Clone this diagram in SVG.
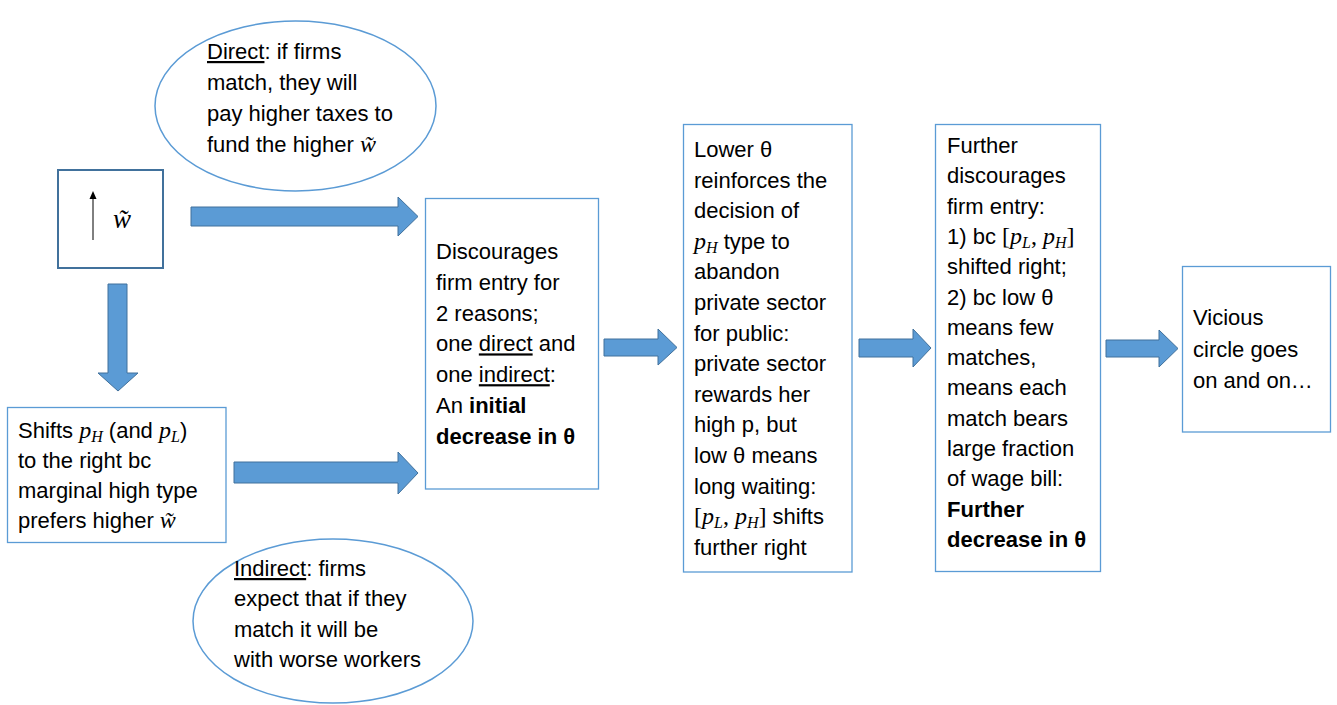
<svg xmlns="http://www.w3.org/2000/svg" width="1337" height="705" viewBox="0 0 1337 705">
<style>
.box{fill:#fff;stroke:#5B9BD5;stroke-width:1.3}
.ell{fill:#fff;stroke:#5B9BD5;stroke-width:1.5}
.arr{fill:#5B9BD5;stroke:#41719C;stroke-width:1}
.t{font-family:"Liberation Sans",Arial,sans-serif;font-size:22px;fill:#000}
.m{font-family:"Liberation Serif","Times New Roman",serif;font-style:italic;font-size:24px}
.r{font-family:"Liberation Serif","Times New Roman",serif;font-size:24px}
.s{font-size:16px}
.u{text-decoration:underline}
.b{font-weight:bold}
</style>
<rect width="1337" height="705" fill="#fff"/>
<g id="connectors">
<polygon class="arr" points="191,207 398,207 398,197 418,216.5 398,236 398,226 191,226"/>
<polygon class="arr" points="234,462 398,462 398,452 418,473 398,494 398,483 234,483"/>
<polygon class="arr" points="108,284 127,284 127,373 138,373 118,391 98,373 108,373"/>
<polygon class="arr" points="604,339 658,339 658,329 677,347.5 658,365 658,356 604,356"/>
<polygon class="arr" points="859,339 913,339 913,329 931,348 913,367 913,357 859,357"/>
<polygon class="arr" points="1106,340 1159,340 1159,330 1178,348.5 1159,367 1159,357 1106,357"/>
</g>
<g id="w">
<rect x="58" y="170" width="105" height="98" fill="#fff" stroke="#41719C" stroke-width="2"/>
<line x1="93" y1="240" x2="93" y2="198" stroke="#000" stroke-width="1"/>
<polygon points="93,191 89.5,199 96.5,199" fill="#000"/>
<text class="t m" x="113" y="228" style="font-size:27px">w̃</text>
</g>
<g id="direct">
<ellipse class="ell" cx="295.5" cy="106" rx="140.5" ry="85"/>
<text class="t" x="207" y="59"><tspan class="u">Direct</tspan>: if firms</text>
<text class="t" x="207" y="90">match, they will</text>
<text class="t" x="207" y="121">pay higher taxes to</text>
<text class="t" x="207" y="152">fund the higher <tspan class="m">w̃</tspan></text>
</g>
<g id="shifts">
<rect class="box" x="7.5" y="407.5" width="218.5" height="135"/>
<text class="t" x="18" y="438">Shifts <tspan class="m">p</tspan><tspan class="m s" dy="4">H</tspan><tspan dy="-4"> (and </tspan><tspan class="m">p</tspan><tspan class="m s" dy="4">L</tspan><tspan dy="-4">)</tspan></text>
<text class="t" x="18" y="468">to the right bc</text>
<text class="t" x="18" y="498">marginal high type</text>
<text class="t" x="18" y="528">prefers higher <tspan class="m">w̃</tspan></text>
</g>
<g id="indirect">
<ellipse class="ell" cx="333" cy="621" rx="140" ry="82"/>
<text class="t" x="234" y="576"><tspan class="u">Indirect</tspan>: firms</text>
<text class="t" x="234" y="606">expect that if they</text>
<text class="t" x="234" y="637">match it will be</text>
<text class="t" x="234" y="667">with worse workers</text>
</g>
<g id="discourages">
<rect class="box" x="425.5" y="198.5" width="173" height="290.5"/>
<text class="t" x="436" y="259">Discourages</text>
<text class="t" x="436" y="289.8">firm entry for</text>
<text class="t" x="436" y="320.6">2 reasons;</text>
<text class="t" x="436" y="351.4">one <tspan class="u">direct</tspan> and</text>
<text class="t" x="436" y="382.2">one <tspan class="u">indirect</tspan>:</text>
<text class="t" x="436" y="413">An <tspan class="b">initial</tspan></text>
<text class="t b" x="436" y="443.8">decrease in θ</text>
</g>
<g id="lower">
<rect class="box" x="683.5" y="124.5" width="168.5" height="447.5"/>
<text class="t" x="694" y="157">Lower θ</text>
<text class="t" x="694" y="187.6">reinforces the</text>
<text class="t" x="694" y="218.2">decision of</text>
<text class="t" x="694" y="248.8"><tspan class="m">p</tspan><tspan class="m s" dy="4">H</tspan><tspan dy="-4"> type to</tspan></text>
<text class="t" x="694" y="279.4">abandon</text>
<text class="t" x="694" y="310">private sector</text>
<text class="t" x="694" y="340.6">for public:</text>
<text class="t" x="694" y="371.2">private sector</text>
<text class="t" x="694" y="401.8">rewards her</text>
<text class="t" x="694" y="432.4">high p, but</text>
<text class="t" x="694" y="463">low θ means</text>
<text class="t" x="694" y="493.6">long waiting:</text>
<text class="t" x="694" y="524.2"><tspan class="r">[</tspan><tspan class="m">p</tspan><tspan class="m s" dy="4">L</tspan><tspan class="r" dy="-4">, </tspan><tspan class="m">p</tspan><tspan class="m s" dy="4">H</tspan><tspan class="r" dy="-4">]</tspan> shifts</text>
<text class="t" x="694" y="554.8">further right</text>
</g>
<g id="further">
<rect class="box" x="935.5" y="124.5" width="165" height="447"/>
<text class="t" x="947" y="153">Further</text>
<text class="t" x="947" y="183.3">discourages</text>
<text class="t" x="947" y="213.6">firm entry:</text>
<text class="t" x="947" y="243.9">1) bc <tspan class="r">[</tspan><tspan class="m">p</tspan><tspan class="m s" dy="4">L</tspan><tspan class="r" dy="-4">, </tspan><tspan class="m">p</tspan><tspan class="m s" dy="4">H</tspan><tspan class="r" dy="-4">]</tspan></text>
<text class="t" x="947" y="274.2">shifted right;</text>
<text class="t" x="947" y="304.5">2) bc low θ</text>
<text class="t" x="947" y="334.8">means few</text>
<text class="t" x="947" y="365.1">matches,</text>
<text class="t" x="947" y="395.4">means each</text>
<text class="t" x="947" y="425.7">match bears</text>
<text class="t" x="947" y="456">large fraction</text>
<text class="t" x="947" y="486.3">of wage bill:</text>
<text class="t b" x="947" y="516.6">Further</text>
<text class="t b" x="947" y="546.9">decrease in θ</text>
</g>
<g id="vicious">
<rect class="box" x="1182.5" y="266.5" width="148" height="165.5"/>
<text class="t" x="1193" y="325">Vicious</text>
<text class="t" x="1193" y="356.5">circle goes</text>
<text class="t" x="1193" y="388">on and on…</text>
</g>
</svg>
